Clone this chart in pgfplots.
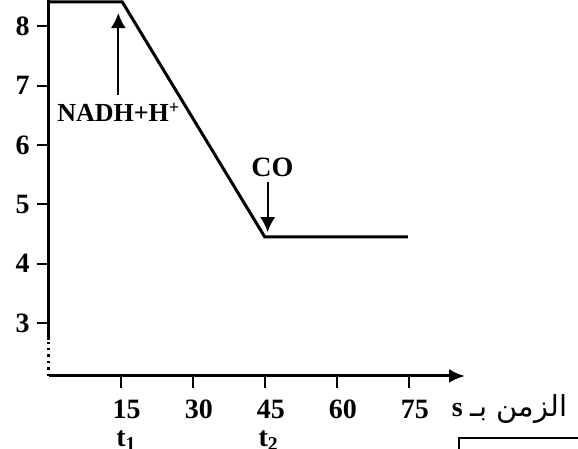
\documentclass[border=0pt]{standalone}
\usepackage{pgfplots}
\pgfplotsset{compat=1.18}
\usetikzlibrary{arrows.meta}
\usepackage{fontspec}
\setmainfont{Liberation Serif}
\newfontfamily\arabicfont[Script=Arabic]{DejaVu Sans}
\TeXXeTstate=1

\begin{document}
\begin{tikzpicture}
\useasboundingbox (0pt,0pt) rectangle (289pt,224.5pt);
\begin{axis}[
  at={(24.35pt,36.5pt)}, anchor=south west,
  scale only axis, width=208.15pt, height=188pt,
  xmin=0, xmax=86.7, ymin=2.11, ymax=8.44,
  axis x line=bottom, axis y line=left,
  x axis line style={line width=1.5pt, -{Latex[length=8pt,width=7pt]}},
  y axis line style={draw=none},
  xtick={15,30,45,60,75}, ytick={3,4,5,6,7,8},
  tick align=outside, major tick length=6pt,
  tick style={line width=1pt, black},
  /pgf/number format/assume math mode=true,
  ticklabel style={font=\fontsize{14}{16}\selectfont\bfseries},
  xticklabel style={xshift=3pt, yshift=-2.5pt},
  clip=false,
]
% y axis: solid, then dotted near the origin
\draw[line width=1.5pt] (axis cs:0,2.72) -- (axis cs:0,8.44);
\draw[line width=1.6pt, dash pattern=on 1.2pt off 2pt] (axis cs:0,2.11) -- (axis cs:0,2.72);

\addplot[black, line width=1.5pt, mark=none] coordinates {
  (0,8.41) (15.3,8.41) (45,4.45) (74.8,4.45)
};

% NADH+H+ injection
\draw[line width=1pt, -{Latex[length=7.5pt,width=7.5pt]}] (axis cs:14.5,6.84) -- (axis cs:14.5,8.22);
\node[font=\fontsize{13}{15}\selectfont\bfseries] at (axis cs:14.6,6.55) {NADH+H\textsuperscript{+}};

% CO
\draw[line width=1pt, -{Latex[length=7.5pt,width=7.5pt]}] (axis cs:45.6,5.37) -- (axis cs:45.6,4.53);
\node[font=\fontsize{14}{16}\selectfont\bfseries] at (axis cs:46.6,5.63) {CO};

% time marks
\node[anchor=base, inner sep=0, font=\fontsize{14}{16}\selectfont\bfseries] at (axis cs:16.2,0.93) {t\textsubscript{1}};
\node[anchor=base, inner sep=0, font=\fontsize{14}{16}\selectfont\bfseries] at (axis cs:45.8,0.93) {t\textsubscript{2}};

% axis title
\node[anchor=base west, inner sep=0] at (axis cs:83.9,1.43)
  {\fontsize{14}{16}\selectfont\bfseries s\hspace{4pt}{\arabicfont\fontsize{14.5}{17}\selectfont\mdseries\beginR الزمن بـ\endR}};

% frame piece at the lower right
\draw[line width=0.75pt] (axis cs:85.5,0.5) -- (axis cs:85.5,1.064) -- (axis cs:160,1.064);
\end{axis}
\end{tikzpicture}
\end{document}
